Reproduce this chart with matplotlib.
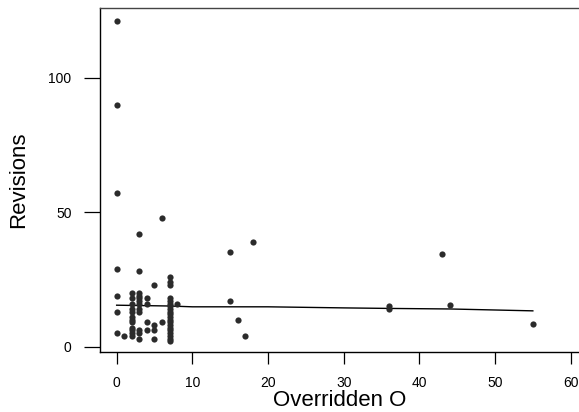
import numpy as np
import matplotlib
matplotlib.use("Agg")
import matplotlib.pyplot as plt

plt.rcParams['font.family'] = ['Liberation Sans', 'DejaVu Sans']

# data: (overridden, revisions)
x0 = [0, 0, 0, 0, 0, 0, 0]
y0 = [121, 90, 57, 29, 19, 13, 5]
x1 = [1]
y1 = [4]
x2 = [2] * 12
y2 = [20, 18, 16, 14, 13, 11, 10, 9, 7, 6, 5, 4]
x3 = [3] * 12
y3 = [42, 28, 20, 19, 18, 17, 16, 14, 13, 6, 5, 3]
x4 = [4] * 4
y4 = [18, 16, 9, 6]
x5 = [5] * 4
y5 = [23, 8, 6, 3]
x6 = [6, 6]
y6 = [48, 9]
x7 = [7] * 20
y7 = [26, 24, 23, 18, 17, 16, 15, 14, 13, 12, 11, 10, 9, 8, 7, 6, 5, 4, 3, 2]
x_rest = [8, 15, 15, 16, 17, 18, 36, 36, 43, 44, 55]
y_rest = [16, 35, 17, 10, 4, 39, 14, 15, 34.5, 15.5, 8.5]

overridden = np.array(x0 + x1 + x2 + x3 + x4 + x5 + x6 + x7 + x_rest)
revisions = np.array(y0 + y1 + y2 + y3 + y4 + y5 + y6 + y7 + y_rest)

# smoothed trend line as drawn
fit_x = [0, 7, 10, 20, 30, 36, 44, 55]
fit_y = [15.4, 15.1, 14.8, 14.8, 14.4, 14.2, 14.0, 13.3]

fig = plt.figure(figsize=(5.79, 4.12), dpi=100)
ax = fig.add_axes([100 / 579, 60 / 412, 1 - 100 / 579, 344 / 412])

ax.scatter(overridden, revisions, s=20, color='#2b2b2b', linewidths=0, zorder=3)
ax.plot(fit_x, fit_y, color='black', lw=1.0, zorder=2)

ax.set_xlim(-2.2, 61.1)
ax.set_ylim(-2.0, 125.9)
ax.set_xticks([0, 10, 20, 30, 40, 50, 60])
ax.set_yticks([0, 50, 100])

ax.spines['right'].set_visible(False)
for s in ['left', 'top', 'bottom']:
    ax.spines[s].set_linewidth(1.0)
ax.spines['top'].set_color('#444444')

ax.tick_params(axis='y', direction='out', length=11.5, width=0.9, pad=9, labelsize=10)
ax.tick_params(axis='x', direction='out', length=8.5, width=0.9, pad=9, labelsize=10)

ax.set_xlabel('Overridden O', fontsize=16, labelpad=0)
ax.set_ylabel('Revisions', fontsize=16, labelpad=14)

fig.savefig('out.png', dpi=100)
